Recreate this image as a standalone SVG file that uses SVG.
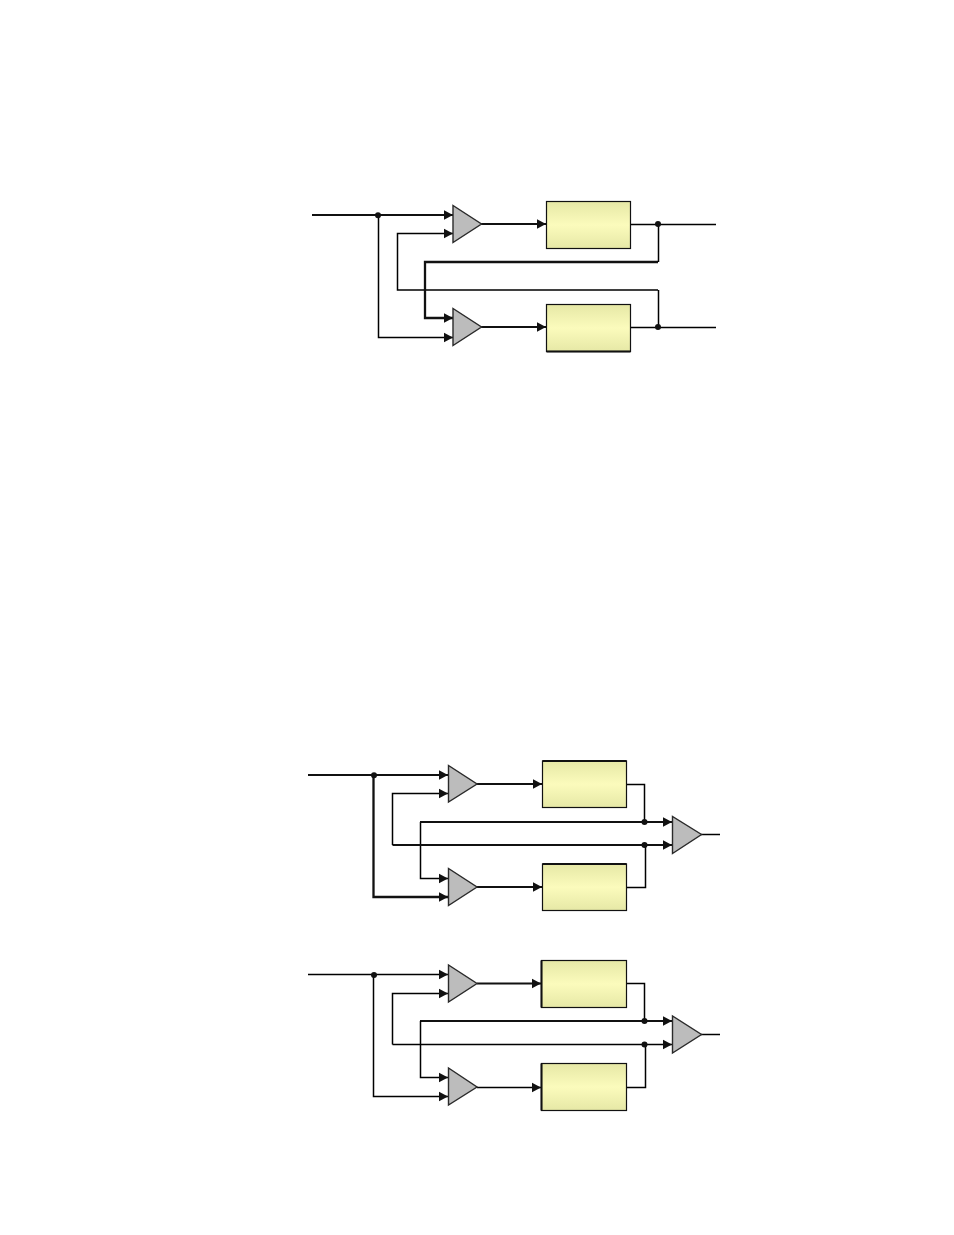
<svg xmlns="http://www.w3.org/2000/svg" width="954" height="1235" viewBox="0 0 954 1235">
<style>
.w{fill:none;stroke:#000;stroke-width:1.5}
.m{fill:none;stroke:#111;stroke-width:1.8}
.t{fill:none;stroke:#111;stroke-width:2.3}
.a{marker-end:url(#arr)}
.amp{fill:#bcbcbc;stroke:#2a2a2a;stroke-width:1.4}
.box{fill:url(#yg);stroke:#111;stroke-width:1.2}
.bt{fill:none;stroke:#111;stroke-width:2}
.dot{fill:#111}
</style>
<defs>
<linearGradient id="yg" x1="0" y1="0" x2="0" y2="1"><stop offset="0" stop-color="#e6e8a6"/><stop offset="0.5" stop-color="#fbfbbc"/><stop offset="1" stop-color="#e6e8a6"/></linearGradient>
<marker id="arr" markerUnits="userSpaceOnUse" markerWidth="11" markerHeight="11" refX="9.500" refY="5.500" orient="auto"><path d="M0 .5L9.500 5.500L0 10.500Z" fill="#111"/></marker>
</defs>
<rect width="954" height="1235" fill="#fff"/>
<g id="connectors">
<path class="m a" d="M312 215H453"/><path class="w a" d="M378.500 215V337.500H453"/>
<path class="w a" d="M658 290H397.500V233.500H453"/><path class="t a" d="M658 262H425V318H453"/>
<path class="w" d="M658.500 224V262M658.500 290V327"/>
<path class="w" d="M630 224.500H716M630 327.500H716"/>
<path class="m a" d="M481 224H546"/><path class="m a" d="M481 327H546"/>
<path class="m a" d="M308 775H448"/><path class="t a" d="M373.500 775V897H448"/>
<path class="w" d="M626 784.500H644.500V822"/><path class="w a" d="M420.500 822V878.500H448"/><path class="m a" d="M420 822H672"/>
<path class="w" d="M626 887.500H645.500V845"/><path class="m a" d="M392.500 845H672"/><path class="w a" d="M392.500 845V793.500H448"/>
<path class="m a" d="M477 784H542"/><path class="m a" d="M477 887H542"/><path class="w" d="M701 834.500H720"/>
<path class="w a" d="M308 974.500H448"/><path class="w a" d="M373.500 975V1096.500H448"/>
<path class="w" d="M626 983.500H644.500V1021"/><path class="m a" d="M420 1021H672"/><path class="w a" d="M420.500 1021V1077.500H448"/>
<path class="w" d="M626 1087.500H645.500V1044.500"/><path class="w a" d="M392.500 1044.500H672"/><path class="w a" d="M392.500 1044.500V993.500H448"/>
<path class="m a" d="M477 983.500H541"/><path class="w a" d="M477 1087.500H541"/><path class="w" d="M701 1034.500H720"/>
</g>
<g id="d1-amp1"><path class="amp" d="M453 205.500V242.500L481.500 224Z"/></g>
<g id="d1-amp2"><path class="amp" d="M453 308.500V345.500L481.500 327Z"/></g>
<g id="d1-box1"><rect class="box" x="546.500" y="201.500" width="84" height="47"/></g>
<g id="d1-box2"><rect class="box" x="546.500" y="304.500" width="84" height="47"/><path class="bt" d="M546.500 351.500H630.500"/></g>
<g id="d1-dots"><circle class="dot" cx="378" cy="215.300" r="3"/><circle class="dot" cx="658" cy="224" r="3"/><circle class="dot" cx="658" cy="327" r="3"/></g>
<g id="d2-amp1"><path class="amp" d="M448.500 765.500V802L477 784Z"/></g>
<g id="d2-amp2"><path class="amp" d="M448.500 868.500V905.500L477 887Z"/></g>
<g id="d2-amp3"><path class="amp" d="M672.500 816.500V853.500L701.500 834.500Z"/></g>
<g id="d2-box1"><rect class="box" x="542.500" y="761" width="84" height="46.500"/><path class="bt" d="M542.500 761H626.500"/></g>
<g id="d2-box2"><rect class="box" x="542.500" y="864" width="84" height="46.500"/><path class="bt" d="M542.500 864H626.500"/></g>
<g id="d2-dots"><circle class="dot" cx="374" cy="775.300" r="3"/><circle class="dot" cx="644.500" cy="822" r="3"/><circle class="dot" cx="644.500" cy="845" r="3"/></g>
<g id="d3-amp1"><path class="amp" d="M448.500 965V1002L477 983.500Z"/></g>
<g id="d3-amp2"><path class="amp" d="M448.500 1068V1105L477 1087Z"/></g>
<g id="d3-amp3"><path class="amp" d="M672.500 1016V1053L701.500 1034.500Z"/></g>
<g id="d3-box1"><rect class="box" x="541.500" y="960.500" width="85" height="47"/><path class="bt" d="M541.500 960.500V1007.500"/></g>
<g id="d3-box2"><rect class="box" x="541.500" y="1063.500" width="85" height="47"/><path class="bt" d="M541.500 1063.500V1110.500"/></g>
<g id="d3-dots"><circle class="dot" cx="374" cy="975" r="3"/><circle class="dot" cx="644.500" cy="1021" r="3"/><circle class="dot" cx="644.500" cy="1044.500" r="3"/></g>
</svg>
